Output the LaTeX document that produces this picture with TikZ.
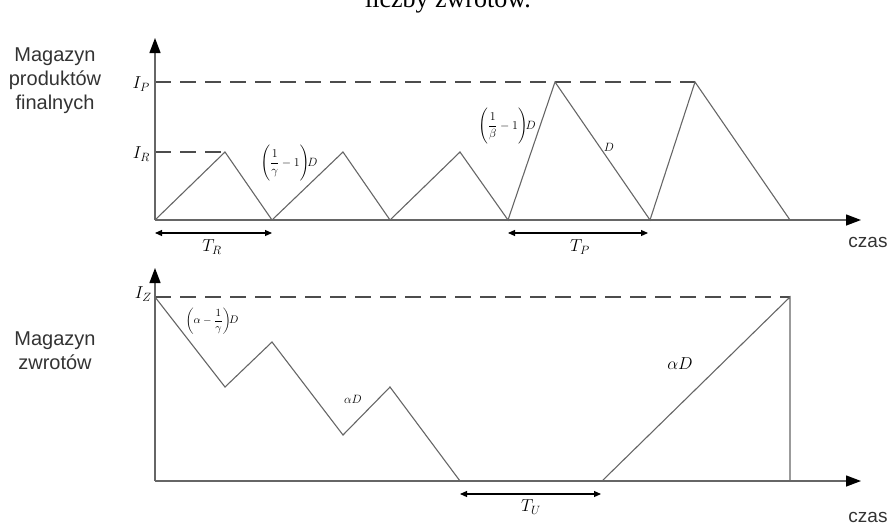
\documentclass[tikz,border=0pt]{standalone}
\usepackage{amsmath}
\usepackage{fontspec}
\setmainfont{Liberation Serif}
\newfontfamily\arialf{Liberation Sans}
\usetikzlibrary{arrows.meta}
\begin{document}
\begin{tikzpicture}[x=1pt,y=-1pt,
  curve/.style={draw=black!60,line width=1.1pt,line join=miter},
  axis/.style={draw=black!60,line width=1.3pt,-{Triangle[length=15pt,width=11pt,color=black]}},
  guide/.style={draw=black!70,line width=1.1pt,dash pattern=on 16pt off 9pt},
  span/.style={draw=black,line width=1.1pt,{Triangle[length=7pt,width=6pt]}-{Triangle[length=7pt,width=6pt]}},
  side/.style={font=\arialf\fontsize{20}{24}\selectfont,color=black!80,align=center},
  lab/.style={font=\fontsize{18}{20}\selectfont,inner sep=1pt},
  small/.style={font=\fontsize{12}{14}\selectfont,inner sep=1pt},
  czasl/.style={font=\arialf\fontsize{19}{21}\selectfont,color=black!80,inner sep=0pt}]
\clip (0,0) rectangle (890,525);
\useasboundingbox (0,0) rectangle (890,525);
% cut off heading
\node[font=\fontsize{26}{28}\selectfont,anchor=base] (head) at (448,7) {liczby zwrotów.};
% side labels
\node[side] (mpf) at (55,81) {Magazyn\\produktów\\finalnych};
\node[side] (mz) at (55,351) {Magazyn\\zwrotów};
% ---------- top plot ----------
\coordinate (o1) at (155,220);
\coordinate (y1) at (155,38);
\coordinate (x1) at (861,220);
\coordinate (a0) at (155,220);
\coordinate (a1) at (225,152);
\coordinate (a2) at (272,220);
\coordinate (a3) at (343,152);
\coordinate (a4) at (390,220);
\coordinate (a5) at (460,152);
\coordinate (a6) at (508,220);
\coordinate (a7) at (555,82);
\coordinate (a8) at (650,220);
\coordinate (a9) at (695,82);
\coordinate (a10) at (790,220);
\coordinate (ir) at (155,152);
\coordinate (ip) at (155,82);
\draw[guide] (ir) -- (a1);
\draw[guide] (ip) -- (a9);
\draw[curve] (a0) -- (a1) -- (a2) -- (a3) -- (a4) -- (a5) -- (a6) -- (a7) -- (a8) -- (a9) -- (a10);
\draw[axis] (o1) -- (y1);
\draw[axis] (o1) -- (x1);
\node[lab,anchor=east] (IP) at (151,84) {$I_P$};
\node[lab,anchor=east] (IR) at (151,154) {$I_R$};
\node[small] (f1) at (289,163) {$\Biggl(\dfrac{1}{\gamma}-1\Biggr)\!D$};
\node[small] (f2) at (507,126) {$\Biggl(\dfrac{1}{\beta}-1\Biggr)\!D$};
\node[small] (f3) at (609,147) {$D$};
\coordinate (tr1) at (155,233);
\coordinate (tr2) at (272,233);
\draw[span] (tr1) -- (tr2);
\node[lab,font=\fontsize{17}{19}\selectfont] (TR) at (212,247) {$T_R$};
\coordinate (tp1) at (508,233);
\coordinate (tp2) at (648,233);
\draw[span] (tp1) -- (tp2);
\node[lab,font=\fontsize{17}{19}\selectfont] (TP) at (580,247) {$T_P$};
\node[czasl] (cz1) at (868,242) {czas};
% ---------- bottom plot ----------
\coordinate (o2) at (155,481);
\coordinate (y2) at (155,268);
\coordinate (x2) at (861,481);
\coordinate (b0) at (155,297);
\coordinate (b1) at (225,387);
\coordinate (b2) at (272,342);
\coordinate (b3) at (343,435);
\coordinate (b4) at (390,387);
\coordinate (b5) at (460,481);
\coordinate (b6) at (602,481);
\coordinate (b7) at (790,297);
\coordinate (b8) at (790,481);
\draw[guide] (b0) -- (b7);
\draw[curve] (b0) -- (b1) -- (b2) -- (b3) -- (b4) -- (b5) -- (b6) -- (b7) -- (b8);
\draw[axis] (o2) -- (y2);
\draw[axis] (o2) -- (x2);
\node[lab,anchor=east] (IZ) at (153,294) {$I_Z$};
\node[small,font=\fontsize{11}{13}\selectfont] (f4) at (212,321) {$\biggl(\alpha-\dfrac{1}{\gamma}\biggr)\!D$};
\node[small,font=\fontsize{11.5}{13}\selectfont] (f5) at (353,399) {$\alpha D$};
\node[font=\fontsize{17}{19}\selectfont,inner sep=1pt] (f6) at (680,364) {$\alpha D$};
\coordinate (tu1) at (460,494);
\coordinate (tu2) at (601,494);
\draw[span] (tu1) -- (tu2);
\node[lab,font=\fontsize{17}{19}\selectfont] (TU) at (531,507) {$T_U$};
\node[czasl] (cz2) at (868,517) {czas};
\end{tikzpicture}
\end{document}
